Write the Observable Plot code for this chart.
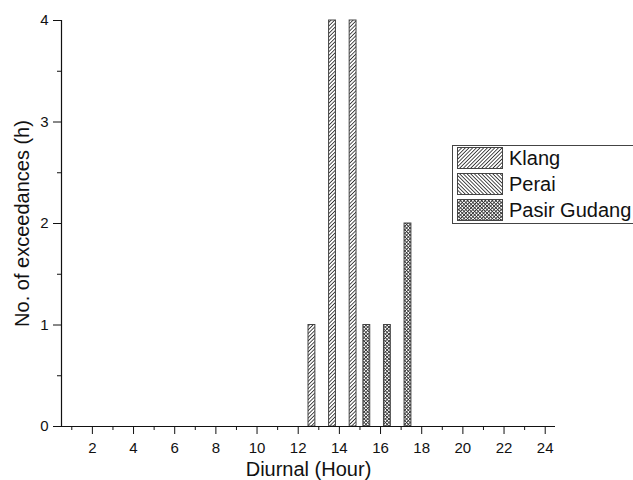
<!DOCTYPE html>
<html>
<head>
<meta charset="utf-8">
<script src="https://cdn.jsdelivr.net/npm/d3@7"></script>
<script src="https://cdn.jsdelivr.net/npm/@observablehq/plot@0.6"></script>
<style>
  html, body { margin: 0; padding: 0; background: #fff; }
  #wrap { position: relative; width: 633px; height: 480px; overflow: hidden; font-family: "Liberation Sans", Arial, sans-serif; }
  #legend { position: absolute; left: 452px; top: 145px; width: 200px; height: 77px; border: 1px solid #444; background: #fff; }
  #legend .row { position: absolute; left: 4px; height: 22px; display: flex; align-items: center; }
  #legend .row svg { display: block; }
  #legend .row span { margin-left: 6px; font-size: 20px; line-height: 22px; color: #111; white-space: nowrap; }
</style>
</head>
<body>
<svg width="0" height="0" style="position:absolute">
  <defs>
    <pattern id="pat-klang" patternUnits="userSpaceOnUse" width="2.6" height="2.6" patternTransform="rotate(45)">
      <rect width="2.6" height="2.6" fill="#fff"/>
      <line x1="1.3" y1="-1" x2="1.3" y2="4" stroke="#333" stroke-width="0.9"/>
    </pattern>
    <pattern id="pat-perai" patternUnits="userSpaceOnUse" width="2.6" height="2.6" patternTransform="rotate(-45)">
      <rect width="2.6" height="2.6" fill="#fff"/>
      <line x1="1.3" y1="-1" x2="1.3" y2="4" stroke="#333" stroke-width="0.9"/>
    </pattern>
    <pattern id="pat-pasir" patternUnits="userSpaceOnUse" width="2.5" height="2.5" patternTransform="rotate(45)">
      <rect width="2.5" height="2.5" fill="#fff"/>
      <line x1="1.25" y1="-1" x2="1.25" y2="4" stroke="#333" stroke-width="0.85"/>
      <line x1="-1" y1="1.25" x2="4" y2="1.25" stroke="#333" stroke-width="0.85"/>
    </pattern>
  </defs>
</svg>
<div id="wrap">
  <div id="chart"></div>
  <div id="legend"></div>
</div>
<script>
// ---- data ----
const hours = [1, 2, 3, 4, 5, 6, 7, 8, 9, 10, 11, 12, 13, 14, 15, 16, 17, 18, 19, 20, 21, 22, 23, 24];
const seriesNames = ["Klang", "Perai", "Pasir Gudang"];
const klang       = [0, 0, 0, 0, 0, 0, 0, 0, 0, 0, 0, 0, 1, 4, 4, 0, 0, 0, 0, 0, 0, 0, 0, 0];
const perai       = [0, 0, 0, 0, 0, 0, 0, 0, 0, 0, 0, 0, 0, 0, 0, 0, 0, 0, 0, 0, 0, 0, 0, 0];
const pasirGudang = [0, 0, 0, 0, 0, 0, 0, 0, 0, 0, 0, 0, 0, 0, 1, 1, 2, 0, 0, 0, 0, 0, 0, 0];
const xTickLabels = [2, 4, 6, 8, 10, 12, 14, 16, 18, 20, 22, 24];
const xMinorTicks = [1, 3, 5, 7, 9, 11, 13, 15, 17, 19, 21, 23];
const yTickLabels = [0, 1, 2, 3, 4];
const yMinorTicks = [0.5, 1.5, 2.5, 3.5];
const xLabel = "Diurnal (Hour)";
const yLabel = "No. of exceedances (h)";

// ---- build table ----
const seriesValues = [klang, perai, pasirGudang];
const fills = ["url(#pat-klang)", "url(#pat-perai)", "url(#pat-pasir)"];
const barW = 1 / 3;
const rows = [];
seriesNames.forEach((name, s) => {
  const off = (s - 1) * barW;
  hours.forEach((h, i) => {
    rows.push({series: name, s, hour: h, value: seriesValues[s][i], x1: h + off - barW / 2, x2: h + off + barW / 2});
  });
});

const barMarks = seriesNames.map((name, s) =>
  Plot.rectY(rows.filter(d => d.s === s && d.value > 0), {
    x1: "x1", x2: "x2", y: "value",
    fill: fills[s], stroke: "#444", strokeWidth: 1
  })
);

const chart = Plot.plot({
  width: 633,
  height: 480,
  marginLeft: 61,
  marginRight: 78,
  marginTop: 20,
  marginBottom: 54,
  style: {fontFamily: "'Liberation Sans', Arial, sans-serif", fontSize: "15px", color: "#111", background: "#fff"},
  x: {domain: [0.5, 24.5]},
  y: {domain: [0, 4]},
  marks: [
    ...barMarks,
    Plot.axisX({ticks: xTickLabels, tickSize: 8, tickPadding: 8, fontSize: 15, tickFormat: d3.format("d"), label: null}),
    Plot.axisX({ticks: xMinorTicks, tickSize: 4, tickFormat: () => "", label: null}),
    Plot.axisY({ticks: yTickLabels, tickSize: 8, tickPadding: 5, fontSize: 15, tickFormat: d3.format("d"), label: null}),
    Plot.axisY({ticks: yMinorTicks, tickSize: 4, tickFormat: () => "", label: null}),
    Plot.ruleY([0], {stroke: "#111", strokeWidth: 1.2}),
    Plot.ruleX([0.5], {stroke: "#111", strokeWidth: 1.2}),
    Plot.text([xLabel], {frameAnchor: "bottom", lineAnchor: "bottom", dy: 49, fontSize: 20, fill: "#111"}),
    Plot.text([yLabel], {frameAnchor: "left", rotate: -90, textAnchor: "middle", lineAnchor: "bottom", dx: -33, fontSize: 20, fill: "#111"})
  ]
});
document.getElementById("chart").appendChild(chart);

// ---- legend ----
const legend = d3.select("#legend");
const rowTops = [1, 27, 53];
seriesNames.forEach((name, s) => {
  const row = legend.append("div").attr("class", "row").style("top", rowTops[s] + "px");
  const sw = row.append("svg").attr("width", 46).attr("height", 22);
  sw.append("rect").attr("x", 0.5).attr("y", 0.5).attr("width", 45).attr("height", 21)
    .attr("fill", fills[s]).attr("stroke", "#444");
  row.append("span").text(name);
});
</script>
</body>
</html>
